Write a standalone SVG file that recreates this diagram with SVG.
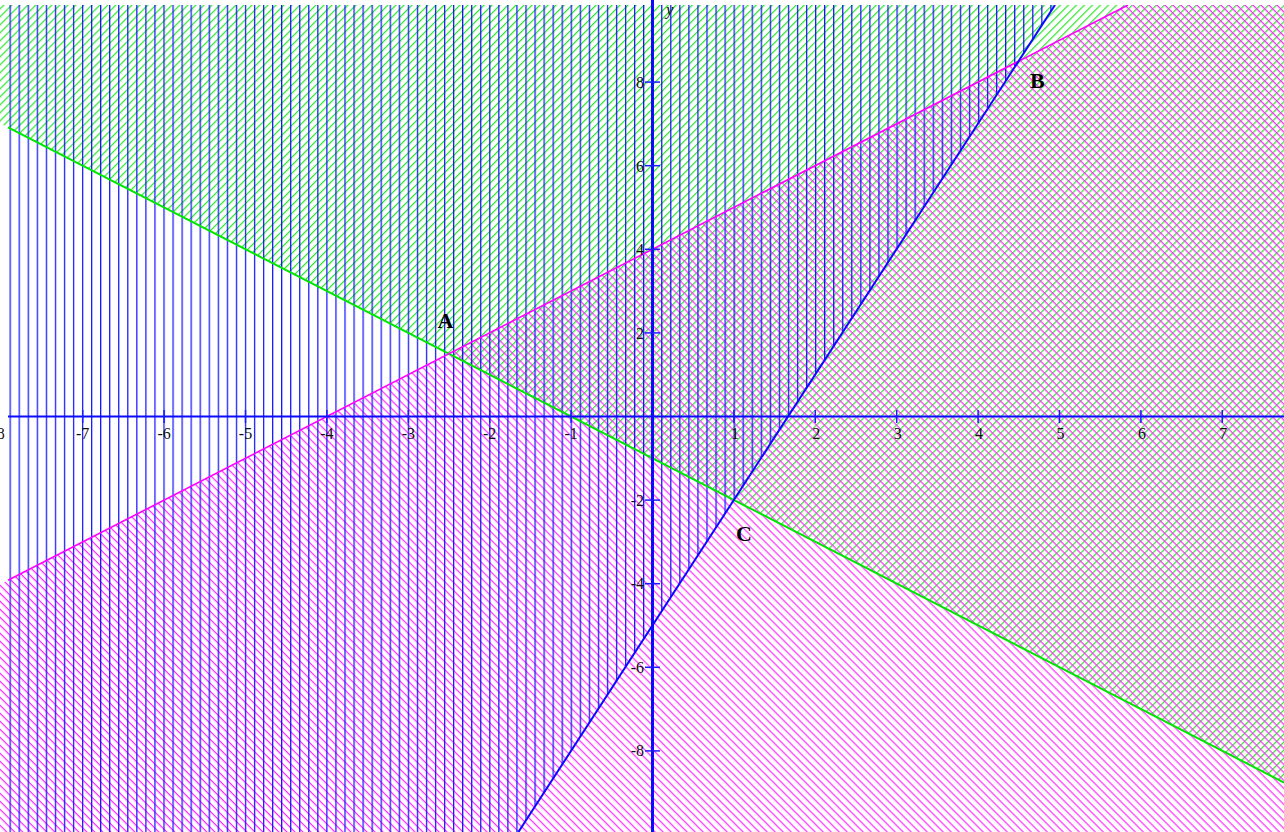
<svg xmlns="http://www.w3.org/2000/svg" width="1284" height="832" viewBox="0 0 1284 832">
<style>
.tick{stroke:#1a1aff;stroke-width:1.5}
.num{font-family:"Liberation Serif","Times New Roman",serif;font-size:16px;fill:#111}
.pt{font-family:"Liberation Serif","Times New Roman",serif;font-size:22px;font-weight:bold;fill:#000}
</style>
<defs>
<clipPath id="plot"><rect x="0" y="5" width="1284" height="827"/></clipPath>
<pattern id="hg" patternUnits="userSpaceOnUse" width="12" height="5.66" patternTransform="rotate(-45)">
<line x1="0" y1="0.6" x2="12" y2="0.6" stroke="#2ee62e" stroke-width="1.25"/>
</pattern>
<pattern id="hm" patternUnits="userSpaceOnUse" width="12" height="5.66" patternTransform="rotate(45)">
<line x1="0" y1="0.6" x2="12" y2="0.6" stroke="#ff2eff" stroke-width="1.25"/>
</pattern>
<pattern id="hb" patternUnits="userSpaceOnUse" x="0.5" y="0" width="9.05" height="20">
<line x1="0.6" y1="0" x2="0.6" y2="20" stroke="#1414ff" stroke-width="1.3"/>
</pattern>
</defs>
<rect width="1284" height="832" fill="#fff"/>
<g id="hatching" clip-path="url(#plot)">
<polygon id="region-green" points="0,123.2 1284,782.5 1284,0 0,0" fill="url(#hg)"/>
<polygon id="region-magenta" points="0,584.4 1284,-75 1284,832 0,832" fill="url(#hm)"/>
<polygon id="region-blue" points="8,0 1058,0 518.4,832 8,832" fill="url(#hb)"/>
</g>
<g id="connectors" clip-path="url(#plot)" fill="none">
<line id="line-green" x1="8" y1="127.3" x2="1284" y2="782.5" stroke="#00e600" stroke-width="2"/>
<line id="line-magenta" x1="8" y1="580.3" x2="1128" y2="5" stroke="#ff00ff" stroke-width="1.6"/>
<line id="line-blue" x1="518.4" y1="832" x2="1055" y2="5" stroke="#0a0aff" stroke-width="2"/>
</g>
<g id="axes">
<line x1="8" y1="416.5" x2="1284" y2="416.5" stroke="#0a0aff" stroke-width="2"/>
<line x1="652.5" y1="0" x2="652.5" y2="832" stroke="#0a0aff" stroke-width="3"/>
<g class="tick">
<line x1="82.7" y1="410" x2="82.7" y2="423"/>
<line x1="164.1" y1="410" x2="164.1" y2="423"/>
<line x1="245.5" y1="410" x2="245.5" y2="423"/>
<line x1="326.9" y1="410" x2="326.9" y2="423"/>
<line x1="408.3" y1="410" x2="408.3" y2="423"/>
<line x1="489.7" y1="410" x2="489.7" y2="423"/>
<line x1="571.1" y1="410" x2="571.1" y2="423"/>
<line x1="733.9" y1="410" x2="733.9" y2="423"/>
<line x1="815.3" y1="410" x2="815.3" y2="423"/>
<line x1="896.7" y1="410" x2="896.7" y2="423"/>
<line x1="978.1" y1="410" x2="978.1" y2="423"/>
<line x1="1059.5" y1="410" x2="1059.5" y2="423"/>
<line x1="1140.9" y1="410" x2="1140.9" y2="423"/>
<line x1="1222.3" y1="410" x2="1222.3" y2="423"/>
<line x1="645" y1="82.1" x2="660" y2="82.1"/>
<line x1="645" y1="165.7" x2="660" y2="165.7"/>
<line x1="645" y1="249.3" x2="660" y2="249.3"/>
<line x1="645" y1="332.9" x2="660" y2="332.9"/>
<line x1="645" y1="500.1" x2="660" y2="500.1"/>
<line x1="645" y1="583.7" x2="660" y2="583.7"/>
<line x1="645" y1="667.3" x2="660" y2="667.3"/>
<line x1="645" y1="750.9" x2="660" y2="750.9"/>
</g>
<g class="num" text-anchor="middle">
<text x="-2" y="439">-8</text>
<text x="82.7" y="439">-7</text>
<text x="164.1" y="439">-6</text>
<text x="245.5" y="439">-5</text>
<text x="326.9" y="439">-4</text>
<text x="408.3" y="439">-3</text>
<text x="489.7" y="439">-2</text>
<text x="571.1" y="439">-1</text>
<text x="735" y="439">1</text>
<text x="816.3" y="439">2</text>
<text x="897.7" y="439">3</text>
<text x="979.1" y="439">4</text>
<text x="1060.5" y="439">5</text>
<text x="1141.9" y="439">6</text>
<text x="1223.3" y="439">7</text>
</g>
<g class="num" text-anchor="end">
<text x="644" y="88">8</text>
<text x="644" y="171.5">6</text>
<text x="644" y="255">4</text>
<text x="644" y="338.5">2</text>
<text x="644" y="505.5">-2</text>
<text x="644" y="589">-4</text>
<text x="644" y="672.5">-6</text>
<text x="644" y="756">-8</text>
</g>
<text x="666" y="15" font-family="Liberation Serif, serif" font-size="17" font-style="italic" fill="#111">y</text>
</g>
<g id="point-A"><text class="pt" x="445.5" y="328" text-anchor="middle">A</text></g>
<g id="point-B"><text class="pt" x="1030" y="88">B</text></g>
<g id="point-C"><text class="pt" x="736" y="541">C</text></g>
</svg>
